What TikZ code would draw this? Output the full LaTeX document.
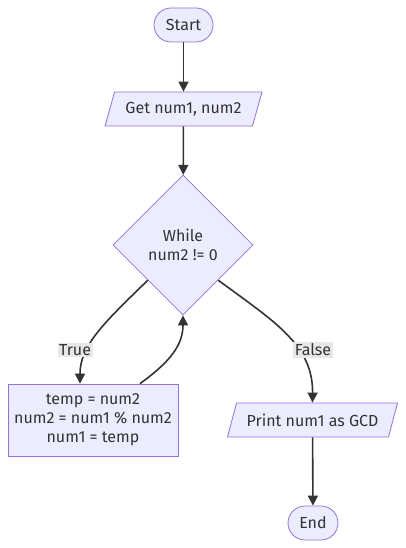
\documentclass[tikz,border=0pt]{standalone}
\usepackage{fontspec}
\setmainfont{Fira Sans}
\usetikzlibrary{shapes.geometric,arrows.meta}
\definecolor{nodefill}{HTML}{ECECFF}
\definecolor{nodeline}{HTML}{9370DB}
\definecolor{edgeline}{HTML}{333333}
\definecolor{lblfill}{HTML}{E8E8E8}
\begin{document}
\begin{tikzpicture}[x=1pt, y=-1pt,
        every node/.style={font=\fontsize{16}{19}\selectfont, text=edgeline},
        box/.style={draw=nodeline, fill=nodefill, line width=0.8pt},
        term/.style={box, rounded corners=17pt, minimum width=59pt, minimum height=34pt},
        io/.style={box, trapezium, trapezium left angle=65, trapezium right angle=115, trapezium stretches body, minimum height=34pt},
        choice/.style={box, diamond, minimum width=140pt, minimum height=140pt, align=center},
        proc/.style={box, minimum width=170pt, minimum height=72pt, align=center},
        flow/.style={draw=edgeline, line width=1.6pt, -{Triangle[length=10pt,width=10pt]}},
        lbl/.style={fill=lblfill, inner sep=1.5pt}]
        \useasboundingbox (0,0) rectangle (406,548);
        % nodes
        \node[term] (start) at (183.5,25) {Start};
        \node[io, minimum width=157pt] (get) at (183.5,109) {Get num1, num2};
        \node[choice] (cond) at (183,245) {While\\num2 != 0};
        \node[proc] (body) at (93,420) {temp = num2\\num2 = num1 \% num2\\num1 = temp};
        \node[io, minimum width=170pt] (print) at (312.5,420) {Print num1 as GCD};
        \node[term, minimum width=50pt] (stop) at (313,523) {End};
        % edges
        \draw[flow] (start) -- (get);
        \draw[flow] (get) -- (cond);
        \draw[flow] (cond.south west) .. controls (105,322) and (80,345) .. ([xshift=-13pt]body.north);
        \draw[flow] ([xshift=47pt]body.north) .. controls (170,362) and (183,345) .. (cond.south);
        \draw[flow] (cond.south east) .. controls (275,322) and (313,345) .. (print.north);
        \draw[flow] (print) -- (stop);
        \node[lbl] (ltrue) at (75,350) {True};
        \node[lbl] (lfalse) at (313,350) {False};
\end{tikzpicture}
\end{document}
